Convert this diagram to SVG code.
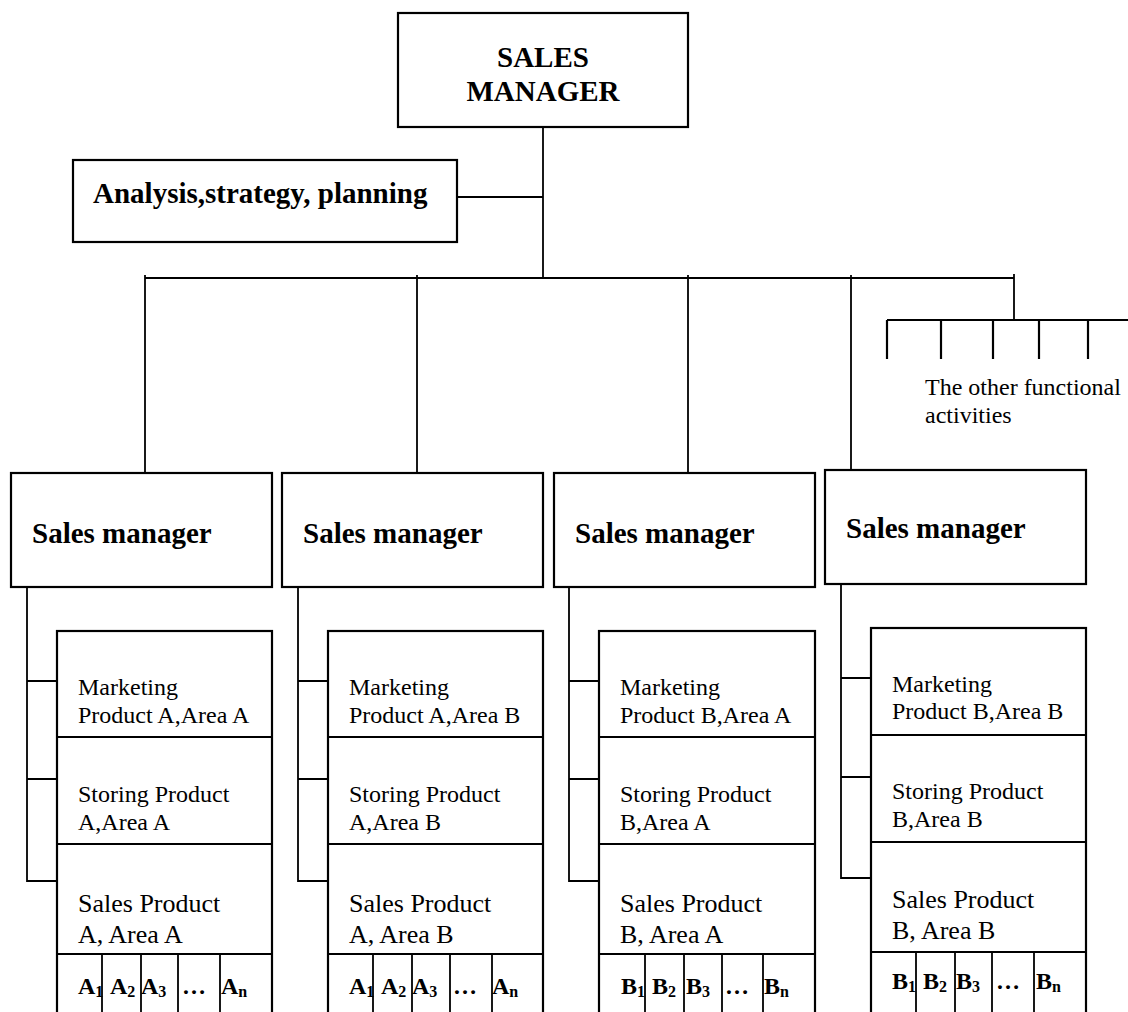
<svg xmlns="http://www.w3.org/2000/svg" width="1128" height="1012" viewBox="0 0 1128 1012">
  <style>
    .box { fill: #fff; stroke: #000; stroke-width: 2.2; }
    .ln { fill: none; stroke: #000; stroke-width: 1.8; }
    .bus { fill: none; stroke: #000; stroke-width: 2.2; }
    .hb { font-family: "Liberation Serif", "Times New Roman", serif; font-weight: bold; font-size: 29px; fill: #000; }
    .tx { font-family: "Liberation Serif", "Times New Roman", serif; font-size: 24px; fill: #000; }
    .tl { font-family: "Liberation Serif", "Times New Roman", serif; font-size: 26px; fill: #000; }
    .cell { font-family: "Liberation Serif", "Times New Roman", serif; font-weight: bold; font-size: 24px; fill: #000; }
    .sub { font-size: 16px; }
  </style>

  <rect x="0" y="0" width="1128" height="1012" fill="#fff"/>

  <!-- connectors -->
  <g id="connectors">
    <!-- top manager trunk and side branch -->
    <line class="ln" x1="543" y1="127" x2="543" y2="278"/>
    <line class="ln" x1="457" y1="197" x2="543" y2="197"/>
    <!-- main bus with drops to the four sales managers -->
    <line class="ln" x1="145" y1="278" x2="1014" y2="278"/>
    <line class="ln" x1="145" y1="275" x2="145" y2="473"/>
    <line class="ln" x1="417" y1="275" x2="417" y2="473"/>
    <line class="ln" x1="688" y1="275" x2="688" y2="473"/>
    <line class="ln" x1="851" y1="275" x2="851" y2="470"/>
    <!-- branch to the other functional activities -->
    <line class="ln" x1="1014" y1="274" x2="1014" y2="320"/>
    <line class="bus" x1="887" y1="320" x2="1128" y2="320"/>
    <line class="bus" x1="887" y1="320" x2="887" y2="359"/>
    <line class="bus" x1="941" y1="320" x2="941" y2="359"/>
    <line class="bus" x1="993" y1="320" x2="993" y2="359"/>
    <line class="bus" x1="1039" y1="320" x2="1039" y2="359"/>
    <line class="bus" x1="1088" y1="320" x2="1088" y2="359"/>
    <!-- column 1 brackets -->
    <path class="ln" d="M27 587 V881 H57 M27 681 H57 M27 779 H57"/>
    <!-- column 2 brackets -->
    <path class="ln" d="M298 587 V881 H328 M298 681 H328 M298 779 H328"/>
    <!-- column 3 brackets -->
    <path class="ln" d="M569 587 V881 H599 M569 681 H599 M569 779 H599"/>
    <!-- column 4 brackets -->
    <path class="ln" d="M841 584 V878 H871 M841 678 H871 M841 777 H871"/>
  </g>

  <!-- top manager -->
  <g id="sales-manager-top">
    <rect class="box" x="398" y="13" width="290" height="114"/>
    <text class="hb" x="543" y="67" text-anchor="middle">SALES</text>
    <text class="hb" x="543" y="101" text-anchor="middle">MANAGER</text>
  </g>

  <g id="analysis">
    <rect class="box" x="73" y="160" width="384" height="82"/>
    <text class="hb" x="93" y="203">Analysis,strategy, planning</text>
  </g>

  <g id="other-activities">
    <text class="tx" x="925" y="395">The other functional</text>
    <text class="tx" x="925" y="423">activities</text>
  </g>

  <!-- sales managers -->
  <g id="manager-1">
    <rect class="box" x="11" y="473" width="261" height="114"/>
    <text class="hb" x="32" y="543">Sales manager</text>
  </g>
  <g id="manager-2">
    <rect class="box" x="282" y="473" width="261" height="114"/>
    <text class="hb" x="303" y="543">Sales manager</text>
  </g>
  <g id="manager-3">
    <rect class="box" x="554" y="473" width="261" height="114"/>
    <text class="hb" x="575" y="543">Sales manager</text>
  </g>
  <g id="manager-4">
    <rect class="box" x="825" y="470" width="261" height="114"/>
    <text class="hb" x="846" y="538">Sales manager</text>
  </g>

  <!-- column 1: product A, area A -->
  <g id="column-1">
    <rect class="box" x="57" y="631" width="215" height="400"/>
    <path class="ln" d="M57 737 H272 M57 844 H272 M57 954 H272 M102 954 V1012 M141 954 V1012 M178 954 V1012 M220 954 V1012"/>
    <text class="tx" x="78" y="695">Marketing</text>
    <text class="tx" x="78" y="723">Product A,Area A</text>
    <text class="tx" x="78" y="802">Storing Product</text>
    <text class="tx" x="78" y="830">A,Area A</text>
    <text class="tl" x="78" y="912">Sales Product</text>
    <text class="tl" x="78" y="943">A, Area A</text>
    <text class="cell" x="78" y="994">A<tspan class="sub" dy="3">1</tspan></text>
    <text class="cell" x="110" y="994">A<tspan class="sub" dy="3">2</tspan></text>
    <text class="cell" x="141" y="994">A<tspan class="sub" dy="3">3</tspan></text>
    <text class="cell" x="182" y="994">…</text>
    <text class="cell" x="221" y="994">A<tspan class="sub" dy="3">n</tspan></text>
  </g>

  <!-- column 2: product A, area B -->
  <g id="column-2">
    <rect class="box" x="328" y="631" width="215" height="400"/>
    <path class="ln" d="M328 737 H543 M328 844 H543 M328 954 H543 M373 954 V1012 M412 954 V1012 M450 954 V1012 M492 954 V1012"/>
    <text class="tx" x="349" y="695">Marketing</text>
    <text class="tx" x="349" y="723">Product A,Area B</text>
    <text class="tx" x="349" y="802">Storing Product</text>
    <text class="tx" x="349" y="830">A,Area B</text>
    <text class="tl" x="349" y="912">Sales Product</text>
    <text class="tl" x="349" y="943">A, Area B</text>
    <text class="cell" x="349" y="994">A<tspan class="sub" dy="3">1</tspan></text>
    <text class="cell" x="381" y="994">A<tspan class="sub" dy="3">2</tspan></text>
    <text class="cell" x="412" y="994">A<tspan class="sub" dy="3">3</tspan></text>
    <text class="cell" x="453" y="994">…</text>
    <text class="cell" x="492" y="994">A<tspan class="sub" dy="3">n</tspan></text>
  </g>

  <!-- column 3: product B, area A -->
  <g id="column-3">
    <rect class="box" x="599" y="631" width="216" height="400"/>
    <path class="ln" d="M599 737 H815 M599 844 H815 M599 954 H815 M645 954 V1012 M684 954 V1012 M722 954 V1012 M763 954 V1012"/>
    <text class="tx" x="620" y="695">Marketing</text>
    <text class="tx" x="620" y="723">Product B,Area A</text>
    <text class="tx" x="620" y="802">Storing Product</text>
    <text class="tx" x="620" y="830">B,Area A</text>
    <text class="tl" x="620" y="912">Sales Product</text>
    <text class="tl" x="620" y="943">B, Area A</text>
    <text class="cell" x="621" y="994">B<tspan class="sub" dy="3">1</tspan></text>
    <text class="cell" x="652" y="994">B<tspan class="sub" dy="3">2</tspan></text>
    <text class="cell" x="686" y="994">B<tspan class="sub" dy="3">3</tspan></text>
    <text class="cell" x="725" y="994">…</text>
    <text class="cell" x="764" y="994">B<tspan class="sub" dy="3">n</tspan></text>
  </g>

  <!-- column 4: product B, area B -->
  <g id="column-4">
    <rect class="box" x="871" y="628" width="215" height="400"/>
    <path class="ln" d="M871 735 H1086 M871 842 H1086 M871 952 H1086 M916 952 V1012 M955 952 V1012 M992 952 V1012 M1034 952 V1012"/>
    <text class="tx" x="892" y="692">Marketing</text>
    <text class="tx" x="892" y="719">Product B,Area B</text>
    <text class="tx" x="892" y="799">Storing Product</text>
    <text class="tx" x="892" y="827">B,Area B</text>
    <text class="tl" x="892" y="908">Sales Product</text>
    <text class="tl" x="892" y="939">B, Area B</text>
    <text class="cell" x="892" y="989">B<tspan class="sub" dy="3">1</tspan></text>
    <text class="cell" x="923" y="989">B<tspan class="sub" dy="3">2</tspan></text>
    <text class="cell" x="956" y="989">B<tspan class="sub" dy="3">3</tspan></text>
    <text class="cell" x="996" y="989">…</text>
    <text class="cell" x="1036" y="989">B<tspan class="sub" dy="3">n</tspan></text>
  </g>
</svg>
